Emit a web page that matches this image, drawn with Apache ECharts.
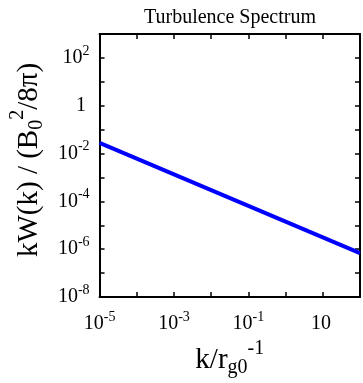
<!DOCTYPE html>
<html>
<head>
<meta charset="utf-8">
<script src="https://cdn.jsdelivr.net/npm/echarts@6/dist/echarts.min.js"></script>
<style>
  html, body { margin: 0; padding: 0; background: #fff; }
  #chart { width: 363px; height: 383px; }
</style>
</head>
<body>
<div id="chart"></div>
<script>
// wave number k (in units of 1/r_g0) and spectrum kW(k)/(B0^2/8pi)
const kValues = [1e-5, 1e2];
const spectrum = [2.8e-2, 6.9e-7];

// tick labels: exponent of the tick -> [base, superscript]
const xLabelExps = [-5, -3, -1, 1];
const xLabelTexts = [['10', '-5'], ['10', '-3'], ['10', '-1'], ['10', '']];
const yLabelExps = [2, 0, -2, -4, -6, -8];
const yLabelTexts = [['10', '2'], ['1', ''], ['10', '-2'], ['10', '-4'], ['10', '-6'], ['10', '-8']];

const FONT = 'Liberation Serif';

const tickRich = {
  b: { fontFamily: FONT, fontSize: 20, lineHeight: 28, color: '#000' },
  s: { fontFamily: FONT, fontSize: 14, padding: [0, 0, 14, 0], color: '#000' },
};
const nameRich = {
  n: { fontFamily: FONT, fontSize: 29, color: '#000' },
  sub: { fontFamily: FONT, fontSize: 20, padding: [16, 0, 0, 0], color: '#000' },
  sup: { fontFamily: FONT, fontSize: 20, padding: [0, 0, 22, 0], color: '#000' },
};

const makeFormatter = (exps, texts) => (val) => {
  const e = Math.round(Math.log10(val));
  const i = exps.indexOf(e);
  if (i < 0) return '';
  const t = texts[i];
  return '{b|' + t[0] + '}{s|' + (t[1] || ' ') + '}';
};

const lineStyle = { color: '#000', width: 2 };
const tickStyle = { show: true, inside: true, length: 5, lineStyle: { color: '#000', width: 1.5 } };

const chart = echarts.init(document.getElementById('chart'));
chart.setOption({
  backgroundColor: '#fff',
  animation: false,
  title: {
    text: 'Turbulence Spectrum',
    left: 225,
    top: 3,
    textAlign: 'center',
    textStyle: { fontFamily: FONT, fontSize: 20, fontWeight: 'normal', color: '#000' },
  },
  grid: { left: 95, right: 1, top: 34, bottom: 81, containLabel: false },
  xAxis: [
    {
      type: 'log',
      min: 1e-5,
      max: 1e2,
      interval: 1,
      position: 'bottom',
      axisLine: { lineStyle },
      axisTick: tickStyle,
      splitLine: { show: false },
      axisLabel: { formatter: makeFormatter(xLabelExps, xLabelTexts), rich: tickRich, margin: 13, showMaxLabel: true },
      name: '{n|k/r}{sub|g0}{sup|-1}',
      nameLocation: 'middle',
      nameGap: 42,
      nameTextStyle: { rich: nameRich },
    },
    {
      type: 'log',
      min: 1e-5,
      max: 1e2,
      interval: 1,
      position: 'top',
      axisLine: { lineStyle },
      axisTick: tickStyle,
      splitLine: { show: false },
      axisLabel: { show: false },
    },
  ],
  yAxis: [
    {
      type: 'log',
      min: 1e-8,
      max: 1e3,
      interval: 1,
      position: 'left',
      axisLine: { lineStyle },
      axisTick: tickStyle,
      splitLine: { show: false },
      axisLabel: { formatter: makeFormatter(yLabelExps, yLabelTexts), rich: tickRich, margin: 10 },
      name: '{n|kW(k) / (B}{sub|0}{sup|2}{n|/8π)}',
      nameLocation: 'middle',
      nameRotate: 90,
      nameGap: 47,
      nameTextStyle: { rich: nameRich, padding: [0, 0, 0, 11] },
    },
    {
      type: 'log',
      min: 1e-8,
      max: 1e3,
      interval: 1,
      position: 'right',
      axisLine: { lineStyle },
      axisTick: tickStyle,
      splitLine: { show: false },
      axisLabel: { show: false },
    },
  ],
  series: [
    {
      type: 'line',
      xAxisIndex: 0,
      yAxisIndex: 0,
      data: kValues.map((k, i) => [k, spectrum[i]]),
      showSymbol: false,
      symbol: 'none',
      lineStyle: { color: '#0000ff', width: 4 },
      clip: true,
    },
  ],
});
</script>
</body>
</html>
